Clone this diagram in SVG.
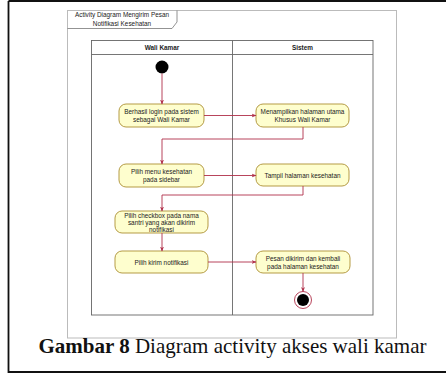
<svg xmlns="http://www.w3.org/2000/svg" width="446" height="378" viewBox="0 0 446 378">
<style>
.node rect{fill:#FEFECE;stroke:#B59B45;stroke-width:1}
.node text,.lbl{font-family:"Liberation Sans",Arial,sans-serif;font-size:6.4px;fill:#222;text-anchor:middle}
.conn path{fill:none;stroke:#B0304A;stroke-width:0.9}
.lane{fill:none;stroke:#666;stroke-width:0.9}
</style>
<defs>
<marker id="ah" viewBox="0 0 10 10" refX="9" refY="5" markerWidth="5" markerHeight="5" orient="auto" markerUnits="userSpaceOnUse">
<path d="M0,1 L10,5 L0,9 L3,5 Z" fill="#B0304A"/>
</marker>
</defs>
<rect x="0" y="0" width="446" height="378" fill="#fff"/>
<!-- outer frame -->
<path d="M8.5,1 H446 M8.5,1 V372 H446" fill="none" stroke="#111" stroke-width="1.8"/>
<!-- inner image frame -->
<rect x="67.5" y="10.5" width="329" height="327.5" fill="#fff" stroke="#bbb" stroke-width="1"/>
<!-- title tab -->
<path d="M67.5,28.5 H172 L177,22 V10.5" fill="none" stroke="#777" stroke-width="0.8"/>
<text class="lbl" x="122" y="17">Activity Diagram Mengirim Pesan</text>
<text class="lbl" x="122" y="25.5">Notifikasi Kesehatan</text>
<!-- swimlanes -->
<g id="lanes">
<rect class="lane" x="91.5" y="40.5" width="281.5" height="274.5"/>
<line class="lane" x1="91.5" y1="54.5" x2="373" y2="54.5"/>
<line class="lane" x1="232.5" y1="40.5" x2="232.5" y2="315"/>
<text class="lbl" x="162" y="49.5" style="font-weight:bold">Wali Kamar</text>
<text class="lbl" x="302.5" y="49.5" style="font-weight:bold">Sistem</text>
</g>
<g id="start"><circle cx="162" cy="67" r="6.5" fill="#000"/></g>
<g id="n1" class="node"><rect x="119" y="104" width="85" height="23" rx="7"/>
<text x="161.5" y="114">Berhasil login pada sistem</text><text x="161.5" y="122">sebagai Wali Kamar</text></g>
<g id="n2" class="node"><rect x="256" y="104" width="93" height="23" rx="7"/>
<text x="302.5" y="114">Menampilkan halaman utama</text><text x="302.5" y="122">Khusus Wali Kamar</text></g>
<g id="n3" class="node"><rect x="119" y="164" width="85" height="23" rx="7"/>
<text x="161.5" y="174">Pilih menu kesehatan</text><text x="161.5" y="182">pada sidebar</text></g>
<g id="n4" class="node"><rect x="256" y="164" width="93" height="22" rx="7"/>
<text x="302.5" y="177.5">Tampil halaman kesehatan</text></g>
<g id="n5" class="node"><rect x="115" y="211" width="93" height="22" rx="7"/>
<text x="161.5" y="218">Pilih checkbox pada nama</text><text x="161.5" y="225">santri yang akan dikirim</text><text x="161.5" y="232">notifikasi</text></g>
<g id="n6" class="node"><rect x="115" y="251" width="93" height="22" rx="7"/>
<text x="161.5" y="264.5">Pilih kirim notifikasi</text></g>
<g id="n7" class="node"><rect x="256" y="251" width="94" height="22" rx="7"/>
<text x="303" y="260.5">Pesan dikirim dan kembali</text><text x="303" y="268.5">pada halaman kesehatan</text></g>
<g id="end"><circle cx="303" cy="300" r="8.5" fill="#fff" stroke="#B0304A" stroke-width="0.9"/><circle cx="303" cy="300" r="6" fill="#000"/></g>
<g class="conn" id="connectors">
<path d="M162,73.5 V104" marker-end="url(#ah)"/>
<path d="M204,115.5 H256" marker-end="url(#ah)"/>
<path d="M303,127 V139 H162 V164" marker-end="url(#ah)"/>
<path d="M204,175.5 H256" marker-end="url(#ah)"/>
<path d="M303,186 V195 H162 V211" marker-end="url(#ah)"/>
<path d="M162,233 V251" marker-end="url(#ah)"/>
<path d="M208,262 H256" marker-end="url(#ah)"/>
<path d="M303,273 V291.5" marker-end="url(#ah)"/>
</g>
<text x="232.5" y="353" style="font-family:'Liberation Serif','Times New Roman',serif;font-size:21px;text-anchor:middle;fill:#111"><tspan font-weight="bold">Gambar 8</tspan> Diagram activity akses wali kamar</text>
</svg>
